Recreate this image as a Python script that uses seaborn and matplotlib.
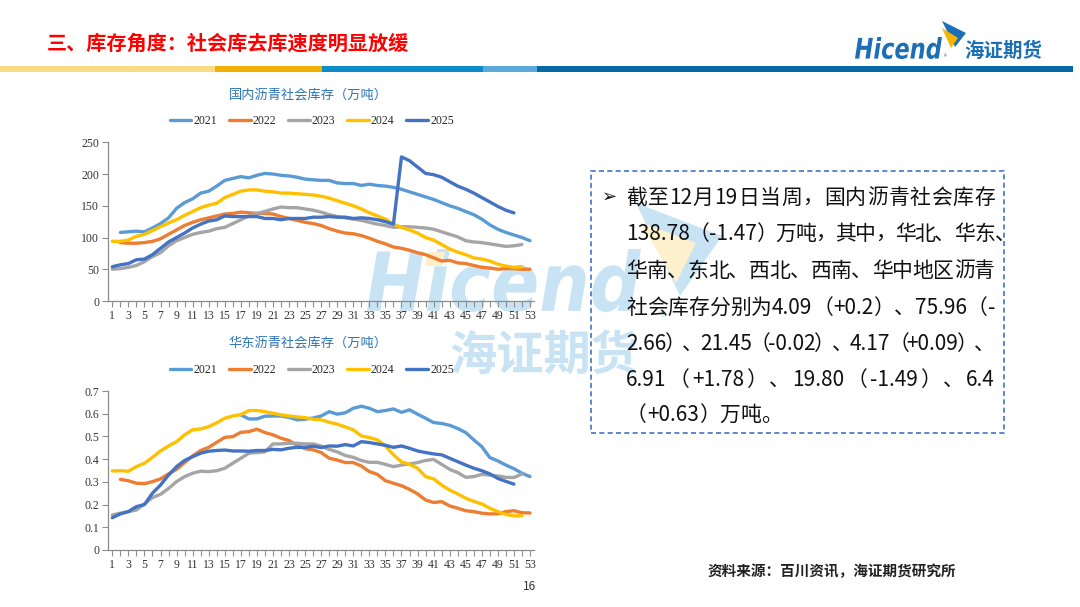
import numpy as np
import pandas as pd
import matplotlib
matplotlib.use("Agg")
import matplotlib.pyplot as plt
import seaborn as sns
from matplotlib.patches import Rectangle, Polygon, PathPatch
from matplotlib.textpath import TextPath
from matplotlib.font_manager import FontProperties
from matplotlib.transforms import Affine2D
from matplotlib.lines import Line2D

# ---------------- data ----------------
years = ["2021", "2022", "2023", "2024", "2025"]
colors = ["#5B9BD5", "#ED7D31", "#A5A5A5", "#FFC000", "#4472C4"]
weeks = list(range(1, 54))
week_labels = [str(w) if w % 2 == 1 else "" for w in weeks]

# national social inventory (10k t); first week of each series
nat_start = {"2021": 2, "2022": 2, "2023": 1, "2024": 1, "2025": 1}
nat_2021 = [108, 109, 110, 109, 115, 122, 131, 146, 155, 161, 170, 173, 181, 190, 193,
            196, 194, 198, 201, 200, 198, 197, 195, 192, 191, 190, 190, 186, 185, 185,
            182, 184, 182, 181, 179, 176, 172, 168, 164, 160, 155, 150, 146, 141, 136,
            129, 120, 113, 108, 104, 100, 95]
nat_2022 = [92, 91, 91, 92, 94, 98, 105, 112, 119, 124, 128, 131, 134, 137, 138,
            140, 139, 138, 138, 137, 133, 130, 127, 124, 122, 119, 114, 110, 107, 106,
            103, 99, 94, 90, 85, 83, 80, 76, 73, 68, 63, 64, 60, 59, 56,
            53, 52, 50, 51, 51, 50, 50]
nat_2023 = [50, 51, 53, 56, 62, 70, 76, 87, 95, 100, 105, 108, 110, 114, 116,
            122, 128, 134, 138, 141, 145, 148, 147, 147, 145, 143, 140, 136, 133, 131,
            129, 127, 124, 121, 119, 116, 117, 117, 116, 115, 113, 109, 105, 101, 95,
            93, 92, 90, 88, 86, 87, 89]
nat_2024 = [94, 94, 96, 102, 105, 111, 117, 123, 128, 135, 141, 147, 151, 154, 163,
            168, 173, 175, 175, 173, 172, 170, 170, 169, 168, 167, 165, 162, 158, 154,
            150, 145, 139, 134, 129, 121, 116, 112, 107, 100, 96, 89, 82, 77, 73,
            68, 66, 63, 58, 55, 53, 54]
nat_2025 = [54, 57, 59, 65, 66, 73, 83, 93, 100, 107, 115, 121, 126, 128, 134,
            133, 133, 133, 133, 130, 130, 128, 130, 130, 130, 132, 132, 133, 132, 132,
            130, 131, 130, 128, 125, 121, 227, 221, 211, 201, 199, 195, 188, 181, 176,
            170, 163, 156, 149, 143, 138.78]

# East China social inventory
ec_start = {"2021": 17, "2022": 2, "2023": 1, "2024": 1, "2025": 1}
ec_2021 = [0.595, 0.577, 0.577, 0.589, 0.590, 0.590, 0.584, 0.573, 0.576, 0.581,
           0.590, 0.609, 0.598, 0.604, 0.624, 0.633, 0.624, 0.609, 0.614, 0.621,
           0.606, 0.617, 0.598, 0.580, 0.561, 0.557, 0.549, 0.535, 0.517, 0.485,
           0.455, 0.407, 0.392, 0.374, 0.358, 0.338, 0.323]
ec_2022 = [0.311, 0.305, 0.294, 0.292, 0.301, 0.313, 0.335, 0.355, 0.385, 0.414,
           0.438, 0.452, 0.474, 0.496, 0.499, 0.518, 0.521, 0.532, 0.517, 0.507,
           0.492, 0.482, 0.461, 0.446, 0.441, 0.429, 0.404, 0.396, 0.385, 0.385,
           0.370, 0.345, 0.333, 0.305, 0.294, 0.283, 0.267, 0.247, 0.220, 0.209,
           0.213, 0.194, 0.184, 0.173, 0.169, 0.162, 0.159, 0.159, 0.169, 0.173,
           0.164, 0.163]
ec_2023 = [0.154, 0.162, 0.169, 0.176, 0.203, 0.231, 0.245, 0.271, 0.301, 0.323,
           0.338, 0.347, 0.345, 0.349, 0.360, 0.382, 0.404, 0.426, 0.429, 0.432,
           0.467, 0.467, 0.470, 0.470, 0.467, 0.467, 0.458, 0.443, 0.432, 0.416,
           0.408, 0.394, 0.386, 0.386, 0.377, 0.367, 0.374, 0.379, 0.385, 0.394,
           0.399, 0.377, 0.355, 0.341, 0.320, 0.323, 0.333, 0.330, 0.326, 0.320,
           0.319, 0.335]
ec_2024 = [0.348, 0.349, 0.347, 0.367, 0.382, 0.408, 0.436, 0.458, 0.477, 0.507,
           0.529, 0.533, 0.543, 0.560, 0.580, 0.590, 0.596, 0.614, 0.614, 0.609,
           0.602, 0.595, 0.590, 0.586, 0.583, 0.576, 0.573, 0.562, 0.554, 0.542,
           0.529, 0.502, 0.495, 0.485, 0.458, 0.419, 0.388, 0.377, 0.360, 0.323,
           0.313, 0.286, 0.264, 0.247, 0.228, 0.214, 0.203, 0.184, 0.169, 0.157,
           0.150, 0.151]
ec_2025 = [0.142, 0.159, 0.169, 0.191, 0.200, 0.250, 0.286, 0.330, 0.367, 0.394,
           0.411, 0.426, 0.435, 0.438, 0.440, 0.436, 0.436, 0.435, 0.438, 0.438,
           0.443, 0.441, 0.448, 0.452, 0.452, 0.457, 0.451, 0.458, 0.457, 0.464,
           0.458, 0.477, 0.473, 0.467, 0.461, 0.452, 0.458, 0.448, 0.436, 0.429,
           0.423, 0.419, 0.404, 0.389, 0.374, 0.360, 0.349, 0.335, 0.315, 0.302,
           0.290]

nat_yticks = [0, 50, 100, 150, 200, 250]
nat_ylabels = ["0", "50", "100", "150", "200", "250"]
ec_yticks = [0, 0.1, 0.2, 0.3, 0.4, 0.5, 0.6, 0.7]
ec_ylabels = ["0", "0.1", "0.2", "0.3", "0.4", "0.5", "0.6", "0.7"]

title_main = "三、库存角度：社会库去库速度明显放缓"
title_nat = "国内沥青社会库存（万吨）"
title_ec = "华东沥青社会库存（万吨）"
source_text = "资料来源：百川资讯，海证期货研究所"
page_no = "16"
box_lines = [
    "截至12月19日当周，国内沥青社会库存",
    "138.78（-1.47）万吨，其中，华北、华东、",
    "华南、东北、西北、西南、华中地区沥青",
    "社会库存分别为4.09（+0.2）、75.96（-",
    "2.66）、21.45（-0.02）、4.17（+0.09）、",
    "6.91 （ +1.78 ） 、 19.80 （ -1.49 ） 、 6.4",
    "（+0.63）万吨。",
]


def long_df(series, starts):
    rows = []
    for yr, vals in series.items():
        for i, v in enumerate(vals):
            rows.append((starts[yr] + i, v, yr))
    return pd.DataFrame(rows, columns=["week", "value", "year"])


df_nat = long_df({"2021": nat_2021, "2022": nat_2022, "2023": nat_2023,
                  "2024": nat_2024, "2025": nat_2025}, nat_start)
df_ec = long_df({"2021": ec_2021, "2022": ec_2022, "2023": ec_2023,
                 "2024": ec_2024, "2025": ec_2025}, ec_start)

# ---------------- style ----------------
sns.set_theme(style="white")
plt.rcParams["font.family"] = ["Noto Sans CJK SC", "DejaVu Sans"]

W, H = 1080, 607
fig = plt.figure(figsize=(W / 100, H / 100), dpi=100)
fig.patch.set_facecolor("white")


def fx(x):
    return x / W


def fy(y):
    return 1 - y / H


def path_text(s, x0, x1, ytop, ybot, color, prop, z=0.5):
    tp = TextPath((0, 0), s, size=100, prop=prop)
    ext = tp.get_extents()
    sx = (x1 - x0) / ext.width
    sy = (ybot - ytop) / ext.height
    tr = (Affine2D().translate(-ext.x0, -ext.y0).scale(sx, sy)
          .translate(x0, H - ybot).scale(1 / W, 1 / H))
    p = PathPatch(tr.transform_path(tp), facecolor=color, edgecolor="none",
                  transform=fig.transFigure, zorder=z)
    fig.add_artist(p)


def poly(pts, color, z=0.5):
    p = Polygon([(fx(a), fy(b)) for a, b in pts], closed=True, facecolor=color,
                edgecolor="none", transform=fig.transFigure, zorder=z)
    fig.add_artist(p)


# ---------------- header ----------------
fig.text(fx(47), fy(43), title_main, fontsize=14.5, color="#FF0000",
         fontweight="bold", ha="left", va="center")

stripe = [(0, 215, "#F9DB84"), (215, 322, "#F4B000"), (322, 483, "#0B8CC9"),
          (483, 537, "#5BAADD"), (537, 1073, "#0669A5")]
for a, b, c in stripe:
    fig.add_artist(Rectangle((fx(a), fy(72)), fx(b) - fx(a), 6 / H, facecolor=c,
                             edgecolor="none", transform=fig.transFigure, zorder=1))

logo_prop = FontProperties(family="DejaVu Sans", weight="bold", style="oblique")
path_text("Hicend", 855, 942, 37, 59, "#1C6FB5", logo_prop, z=2)
fig.text(fx(944), fy(57), "®", fontsize=4.5, color="#1C6FB5", ha="left", va="center")
poly([(942, 21), (966, 33), (955, 47)], "#1C6FB5", z=2)
poly([(942, 28), (958, 38), (951, 48)], "#F7B500", z=2.1)
fig.text(fx(964), fy(51), "海证期货", fontsize=14, color="#1C6FB5",
         fontweight="bold", ha="left", va="center")

# ---------------- watermark ----------------
wm_blue = "#C8E3F4"
path_text("Hicend", 367, 641, 249, 312, wm_blue, logo_prop, z=0.5)
poly([(428, 252), (445, 252), (442, 266), (425, 266)], "#FCEFCB", z=0.6)
fig.text(fx(660), fy(318), "®", fontsize=9, color=wm_blue, ha="left", va="center", zorder=0.5)
poly([(636, 203), (722, 236), (680, 296)], wm_blue, z=0.5)
poly([(640, 222), (696, 243), (676, 283)], "#FDF0CC", z=0.55)
fig.text(fx(544), fy(356), "海证期货", fontsize=34, color=wm_blue,
         fontweight="bold", ha="center", va="center", zorder=0.5)

# ---------------- charts ----------------
left_px, width_px = 108.3, 425.7
ax1 = fig.add_axes([fx(left_px), fy(301), width_px / W, (301 - 142.3) / H])
ax2 = fig.add_axes([fx(left_px), fy(550), width_px / W, (550 - 391) / H])

serif = FontProperties(family="Liberation Serif", size=8.5)
for ax, df, yt, yl, ylim in [(ax1, df_nat, nat_yticks, nat_ylabels, (0, 250)),
                             (ax2, df_ec, ec_yticks, ec_ylabels, (0, 0.7))]:
    sns.lineplot(data=df, x="week", y="value", hue="year", hue_order=years,
                 palette=colors, linewidth=2.4, errorbar=None, legend=False, ax=ax)
    for ln in ax.get_lines():
        ln.set_solid_capstyle("round")
        ln.set_solid_joinstyle("round")
    ax.set_facecolor("none")
    ax.set_zorder(1)
    ax.set_xlim(0.5, 53.5)
    ax.set_ylim(*ylim)
    ax.set_xticks(weeks)
    ax.set_xticklabels(week_labels)
    ax.set_yticks(yt)
    ax.set_yticklabels(yl)
    ax.set_xlabel("")
    ax.set_ylabel("")
    sns.despine(ax=ax)
    for sp in ("left", "bottom"):
        ax.spines[sp].set_color("#8C8C8C")
        ax.spines[sp].set_linewidth(0.9)
    ax.tick_params(axis="both", which="major", direction="out", length=4, width=0.8,
                   color="#8C8C8C", labelcolor="#333333", pad=2.5,
                   bottom=True, left=True)
    for lab in ax.get_xticklabels() + ax.get_yticklabels():
        lab.set_fontproperties(serif)

handles = [Line2D([], [], color=c, lw=2.4, solid_capstyle="round") for c in colors]
for ycen in (121, 370):
    fig.legend(handles, years, loc="center", bbox_to_anchor=(fx(312), fy(ycen)),
               ncol=5, frameon=False, prop=serif, handlelength=1.8,
               handletextpad=0.2, columnspacing=1.0)

fig.text(fx(308), fy(95), title_nat, fontsize=9.5, color="#2E75B6", ha="center", va="center")
fig.text(fx(308), fy(343), title_ec, fontsize=9.5, color="#2E75B6", ha="center", va="center")

# ---------------- text box ----------------
fig.add_artist(Rectangle((fx(591), fy(433)), (1004 - 591) / W, (433 - 171) / H,
                         facecolor="none", edgecolor="#4472C4", lw=1.2,
                         linestyle=(0, (3, 2)), transform=fig.transFigure, zorder=2))
fig.text(fx(602), fy(197), "➢", fontsize=13, family="DejaVu Sans", fontweight="bold",
         color="#111111", ha="left", va="center", zorder=3)

box_prop = FontProperties(family="Noto Sans CJK SC", size=15)
renderer = fig.canvas.get_renderer()


def tw(s):
    w1, _, _ = renderer.get_text_width_height_descent("国" + s + "国", box_prop, ismath=False)
    w0, _, _ = renderer.get_text_width_height_descent("国国", box_prop, ismath=False)
    return w1 - w0


def tokens(line):
    toks, buf = [], ""
    for ch in line:
        if ord(ch) < 128 and ch != " ":
            buf += ch
        else:
            if buf:
                toks.append(buf)
                buf = ""
            toks.append(ch)
    if buf:
        toks.append(buf)
    return toks


x0, x1 = 626, 995
line_y = [197, 233, 270, 307, 343, 379, 414]
for i, (line, yc) in enumerate(zip(box_lines, line_y)):
    toks = tokens(line)
    hang = None
    if i == 1:
        hang = toks.pop()
    widths = [tw(t) for t in toks]
    if i < len(box_lines) - 1 and len(toks) > 1:
        gap = (x1 - x0 - sum(widths)) / (len(toks) - 1)
    else:
        gap = 0
    x = x0
    base = yc + 7
    for t, w in zip(toks, widths):
        if t != " ":
            fig.text(fx(x), fy(base), t, fontproperties=box_prop, color="#111111",
                     ha="left", va="baseline", zorder=3)
        x += w + gap
    if hang:
        fig.text(fx(x1), fy(base), hang, fontproperties=box_prop, color="#111111",
                 ha="left", va="baseline", zorder=3)

# ---------------- footer ----------------
fig.text(fx(708), fy(571), source_text, fontsize=10.5, fontweight="bold",
         color="#222222", ha="left", va="center")
fig.text(fx(529), fy(586), page_no, fontsize=8.5, color="#333333", ha="center", va="center")

fig.savefig("out.png", dpi=100, facecolor="white")
